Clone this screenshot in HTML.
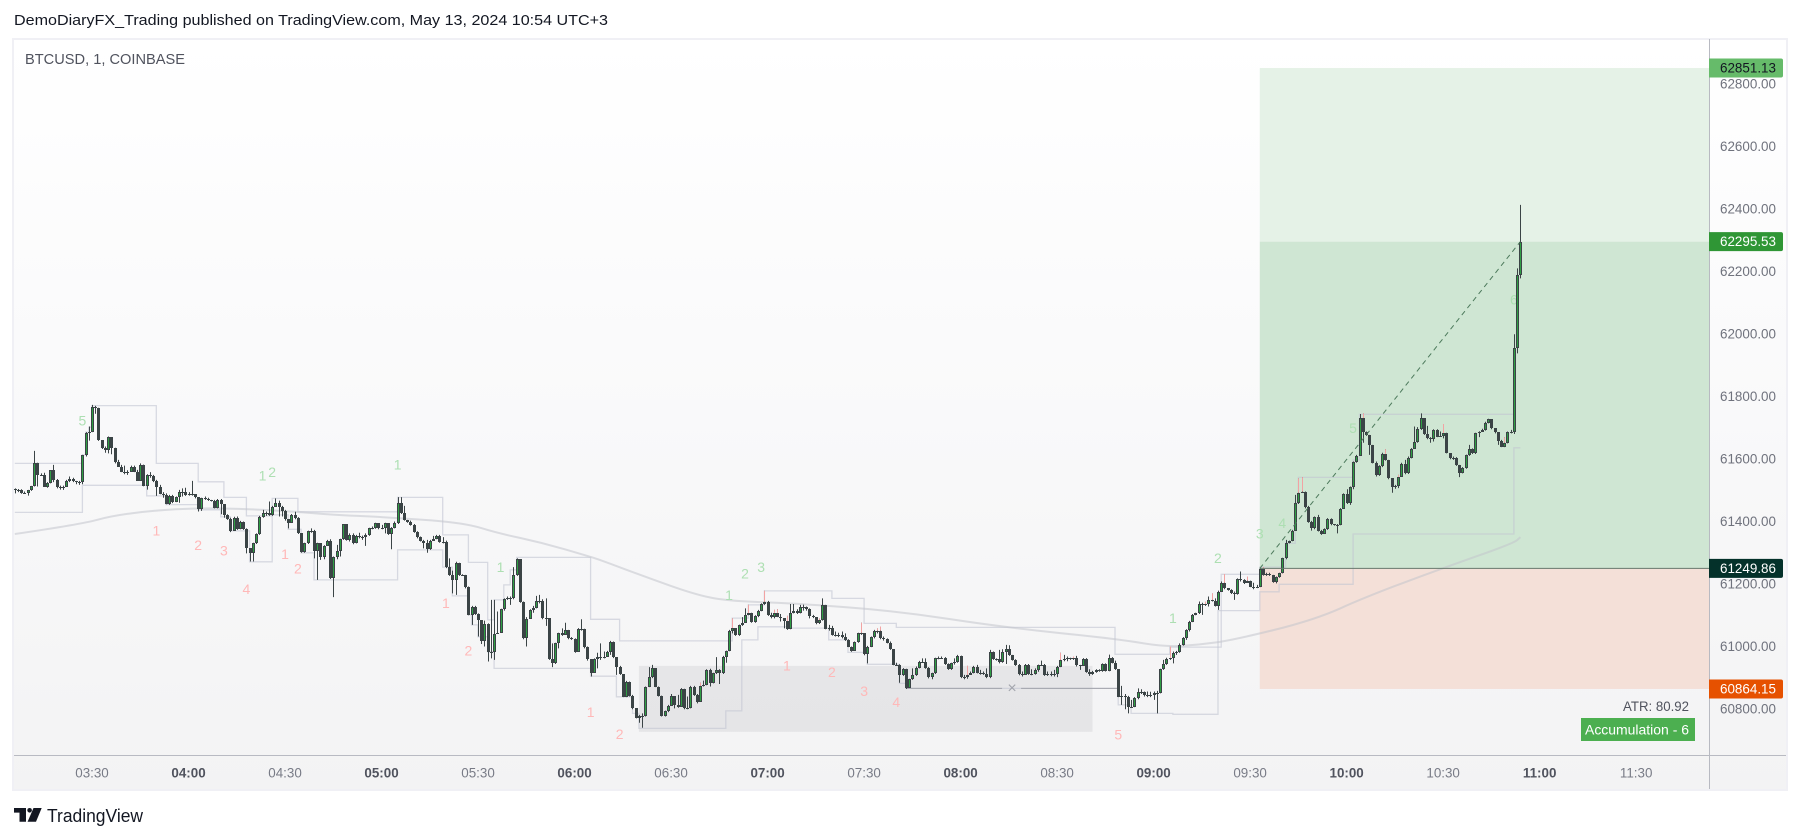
<!DOCTYPE html>
<html lang="en">
<head>
<meta charset="utf-8">
<title>BTCUSD, 1, COINBASE</title>
<style>
html,body{margin:0;padding:0;background:#fff;width:1802px;height:839px;overflow:hidden}
svg{display:block}
text{font-family:"Liberation Sans",sans-serif}
</style>
</head>
<body>
<svg id="chart" xmlns="http://www.w3.org/2000/svg" width="1802" height="839" viewBox="0 0 1802 839">
  <defs>
    <linearGradient id="paneBg" x1="0" y1="0" x2="0" y2="1">
      <stop offset="0" stop-color="#ffffff"/>
      <stop offset="0.5" stop-color="#f9f9fa"/>
      <stop offset="1" stop-color="#f3f3f4"/>
    </linearGradient>
    <clipPath id="paneClip"><rect x="14" y="40" width="1695" height="715"/></clipPath>
  </defs>
  <text x="14" y="25" font-size="15" fill="#131722" textLength="594" lengthAdjust="spacingAndGlyphs">DemoDiaryFX_Trading published on TradingView.com, May 13, 2024 10:54 UTC+3</text>
  <rect x="13" y="39" width="1774" height="751" fill="url(#paneBg)" stroke="#f0f0f5" stroke-width="2"/>
  <g id="pane" clip-path="url(#paneClip)"></g>
  <line x1="14" y1="755.5" x2="1786" y2="755.5" stroke="#b8bac2" stroke-width="1"/>
  <line x1="1709.5" y1="39" x2="1709.5" y2="789" stroke="#b8bac2" stroke-width="1"/>
  <g id="priceAxis"></g>
  <g id="timeAxis"></g>
  <g id="badges"></g>
  <text x="25" y="64" font-size="14.5" fill="#50535e" textLength="160" lengthAdjust="spacingAndGlyphs">BTCUSD, 1, COINBASE</text>
  <text x="1689" y="711" font-size="14" fill="#50535e" text-anchor="end" textLength="66" lengthAdjust="spacingAndGlyphs">ATR: 80.92</text>
  <rect x="1581" y="718" width="114" height="23" fill="#4caf50"/>
  <text x="1585" y="734.5" font-size="14" fill="#ffffff" textLength="104" lengthAdjust="spacingAndGlyphs">Accumulation - 6</text>
  <g>
    <path d="M14 808H26V821.7H19.5V812.6H14Z" fill="#131722"/>
    <circle cx="29.6" cy="810.3" r="2.3" fill="#131722"/>
    <path d="M33.5 808H41.7L36 821.7H27.6Z" fill="#131722"/>
    <text x="47" y="822" font-size="18" fill="#131722" textLength="96" lengthAdjust="spacingAndGlyphs">TradingView</text>
  </g>
</svg>
<script>
const firstMinute = 186;
const priceTicks = [62800,62600,62400,62200,62000,61800,61600,61400,61200,61000,60800];
const timeLabels = ["03:30","04:00","04:30","05:00","05:30","06:00","06:30","07:00","07:30","08:00","08:30","09:00","09:30","10:00","10:30","11:00","11:30"];
const firstOpen = 61505;
const closes = [
61502,61501,61492,61491,61500,61513,61586,61549,61549,61512,
61522,61564,61533,61512,61506,61512,61530,61536,61530,61526,
61526,61612,61683,61686,61767,61764,61660,61636,61629,61670,
61634,61592,61576,61560,61558,61558,61575,61560,61531,61580,
61515,61549,61546,61530,61512,61489,61485,61456,61483,61462,
61478,61494,61495,61485,61487,61487,61478,61440,61474,61472,
61470,61466,61444,61469,61455,61421,61408,61370,61412,61376,
61400,61376,61314,61298,61330,61359,61416,61426,61426,61421,
61448,61460,61448,61435,61407,61396,61422,61410,61362,61304,
61330,61370,61370,61307,61330,61286,61322,61337,61220,61286,
61305,61343,61391,61341,61357,61332,61354,61352,61350,61357,
61378,61379,61394,61379,61379,61394,61359,61378,61394,61458,
61426,61405,61398,61389,61368,61350,61338,61330,61311,61339,
61345,61354,61336,61336,61254,61230,61213,61268,61229,61228,
61190,61102,61128,61104,61085,61019,61071,60984,60984,61040,
61044,61119,61152,61154,61154,61228,61281,61144,61026,61087,
61117,61122,61147,61147,61090,61090,60959,60948,61010,61042,
61037,61053,61026,61023,60984,61057,61055,60998,60959,60916,
60959,60968,60966,60966,60984,61016,60966,60936,60911,60840,
60888,60842,60802,60772,60779,60779,60870,60902,60931,60872,
60843,60778,60793,60810,60841,60813,60808,60865,60802,60802,
60872,60845,60824,60874,60876,60925,60884,60914,60925,60914,
60968,60986,61051,61058,61037,61068,61076,61100,61106,61080,
61098,61115,61136,61143,61101,61094,61106,61096,61090,61081,
61055,61108,61115,61106,61128,61128,61119,61098,61096,61074,
61085,61133,61057,61059,61037,61038,61036,61032,61021,61000,
60986,61014,61042,61044,60976,61000,61030,61050,61051,61026,
61023,61012,60991,60942,60941,60909,60929,60866,60895,60909,
60932,60952,60952,60931,60902,60914,60962,60964,60964,60944,
60927,60946,60952,60971,60902,60902,60909,60914,60936,60916,
60914,60912,60902,60982,60959,60959,60951,60982,60991,60972,
60957,60941,60912,60910,60942,60912,60912,60925,60940,60942,
60909,60911,60908,60912,60936,60957,60959,60962,60960,60962,
60941,60938,60961,60919,60911,60920,60925,60922,60944,60923,
60962,60948,60927,60840,60842,60838,60808,60808,60834,60856,
60856,60845,60846,60844,60850,60852,60927,60944,60961,60962,
60978,60982,61005,61026,61053,61080,61101,61106,61136,61133,
61136,61149,61147,61130,61176,61204,61186,61181,61170,61168,
61215,61213,61202,61211,61192,61190,61192,61247,61230,61232,
61230,61207,61222,61234,61282,61330,61337,61371,61458,61492,
61496,61448,61400,61378,61414,61371,61360,61376,61409,61391,
61390,61390,61441,61487,61458,61510,61590,61610,61730,61688,
61677,61645,61588,61549,61578,61616,61597,61538,61510,61515,
61542,61584,61554,61604,61633,61655,61697,61730,61680,61666,
61663,61693,61672,61674,61682,61620,61602,61602,61581,61556,
61570,61612,61633,61620,61682,61687,61693,61716,61727,61698,
61686,61659,61640,61652,61686,61688,61954,62189,62294];
const highs = [
61506,61504,61503,61496,61501,61514,61626,61588,61554,61556,
61526,61564,61581,61536,61515,61515,61533,61544,61540,61530,
61530,61613,61686,61704,61773,61770,61764,61660,61640,61672,
61666,61636,61597,61581,61579,61564,61579,61579,61565,61586,
61582,61551,61558,61549,61533,61517,61494,61490,61485,61485,
61480,61501,61506,61508,61494,61530,61487,61476,61476,61480,
61476,61469,61469,61472,61472,61456,61423,61412,61415,61416,
61402,61400,61378,61312,61332,61362,61418,61437,61432,61464,
61450,61474,61467,61450,61437,61407,61424,61431,61414,61362,
61332,61371,61378,61373,61332,61330,61324,61341,61343,61288,
61325,61345,61392,61392,61362,61362,61357,61364,61355,61362,
61380,61384,61396,61394,61389,61396,61394,61382,61400,61478,
61478,61450,61405,61403,61392,61369,61352,61341,61341,61341,
61354,61357,61357,61350,61339,61282,61243,61271,61268,61231,
61229,61192,61130,61130,61106,61044,61083,61074,61149,61149,
61112,61121,61154,61160,61160,61254,61282,61277,61144,61094,
61119,61130,61162,61165,61151,61154,61082,61010,61012,61044,
61058,61076,61053,61030,61026,61059,61087,61057,61000,60957,
60962,60980,61010,60984,60986,61018,61016,60966,60938,60911,
60890,60888,60845,60802,60781,60786,60872,60934,60941,60929,
60872,60843,60795,60813,60848,60840,60845,60867,60865,60840,
60874,60874,60848,60884,60891,60927,60929,60916,60966,60927,
60970,60987,61053,61090,61058,61070,61094,61122,61133,61108,
61100,61117,61138,61178,61146,61108,61117,61119,61104,61090,
61098,61136,61136,61119,61133,61134,61128,61122,61101,61085,
61090,61154,61133,61069,61066,61048,61044,61048,61042,61023,
61000,61016,61044,61076,61042,61002,61032,61053,61058,61064,
61032,61026,61016,60991,60948,60943,60931,60929,60897,60930,
60936,60954,60962,60962,60934,60916,60964,60968,60968,60966,
60946,60948,60962,60973,60971,60909,60938,60920,60938,60941,
60925,60920,60930,60989,60984,60962,60989,60991,61005,61004,
60973,60959,60944,60920,60944,60944,60927,60930,60942,60955,
60944,60920,60920,60925,60938,60980,60973,60968,60964,60968,
60970,60941,60963,60963,60927,60922,60927,60927,60946,60946,
60974,60966,60955,60927,60874,60848,60842,60829,60838,60866,
60863,60856,60856,60855,60856,60858,60929,60957,60964,61000,
60984,60986,61010,61030,61055,61082,61104,61108,61144,61140,
61144,61160,61170,61154,61179,61208,61232,61186,61183,61176,
61218,61240,61215,61224,61211,61204,61197,61250,61254,61236,
61236,61229,61224,61236,61284,61341,61339,61373,61485,61538,
61542,61496,61450,61402,61416,61421,61373,61378,61411,61410,
61392,61392,61443,61490,61503,61512,61592,61613,61744,61746,
61688,61677,61645,61592,61580,61620,61631,61597,61538,61517,
61549,61588,61597,61608,61635,61704,61702,61746,61730,61706,
61670,61695,61695,61688,61712,61684,61616,61608,61606,61581,
61574,61614,61645,61634,61684,61689,61697,61719,61729,61727,
61698,61686,61661,61670,61688,61693,61999,62210,62413];
const lows = [
61490,61494,61489,61489,61483,61498,61512,61512,61546,61511,
61508,61522,61526,61506,61502,61501,61511,61526,61526,61519,
61517,61519,61608,61659,61686,61745,61658,61632,61620,61618,
61615,61586,61575,61558,61551,61549,61560,61558,61530,61530,
61513,61502,61540,61526,61482,61487,61476,61455,61453,61459,
61462,61460,61480,61482,61483,61483,61474,61432,61434,61469,
61466,61464,61442,61442,61423,61412,61405,61366,61372,61373,
61375,61373,61298,61272,61272,61328,61357,61412,61418,61418,
61418,61448,61416,61416,61403,61378,61396,61407,61360,61300,
61300,61328,61364,61282,61213,61277,61279,61322,61216,61158,
61279,61288,61341,61339,61336,61327,61330,61346,61341,61322,
61354,61375,61377,61375,61375,61362,61357,61311,61378,61392,
61424,61403,61396,61387,61364,61346,61336,61314,61300,61309,
61341,61343,61332,61330,61251,61226,61170,61165,61226,61226,
61186,61100,61069,61101,61032,61008,61000,60952,60962,60957,
61040,61044,61115,61149,61133,61151,61226,61140,61023,61000,
61091,61108,61122,61138,61087,61066,60957,60934,60944,60994,
61034,61048,61023,61021,60980,60984,61051,60994,60955,60904,
60916,60930,60957,60962,60973,60973,60963,60909,60909,60838,
60838,60840,60799,60770,60756,60740,60776,60870,60899,60870,
60840,60776,60776,60790,60810,60802,60804,60808,60799,60799,
60802,60842,60818,60844,60872,60876,60872,60882,60912,60880,
60912,60948,60985,61042,61034,61034,61066,61076,61100,61076,
61076,61094,61113,61133,61098,61090,61090,61094,61080,61058,
61053,61055,61106,61104,61106,61115,61115,61090,61091,61071,
61072,61083,61055,61051,61035,61032,61030,61026,61018,60998,
60983,60986,61012,61037,60972,60946,60998,61026,61042,61023,
61019,61010,60989,60940,60938,60884,60906,60864,60870,60893,
60906,60930,60948,60929,60898,60895,60912,60959,60961,60941,
60925,60925,60942,60948,60899,60895,60897,60909,60914,60914,
60910,60909,60899,60899,60957,60955,60946,60948,60944,60970,
60955,60938,60908,60904,60909,60909,60908,60910,60919,60938,
60906,60906,60905,60904,60902,60934,60953,60953,60957,60957,
60936,60925,60938,60916,60906,60909,60916,60919,60919,60920,
60921,60946,60925,60838,60813,60799,60786,60806,60806,60831,
60848,60840,60838,60838,60829,60786,60850,60925,60941,60957,
60946,60973,60980,61003,61021,61048,61078,61100,61104,61101,
61130,61128,61144,61128,61117,61179,61183,61179,61168,61149,
61166,61208,61200,61207,61190,61183,61187,61190,61227,61226,
61226,61204,61202,61220,61234,61279,61330,61337,61371,61456,
61492,61442,61396,61371,61375,61368,61357,61368,61373,61388,
61387,61362,61388,61441,61456,61453,61503,61588,61614,61652,
61674,61613,61586,61544,61546,61574,61595,61535,61492,61505,
61507,61544,61551,61552,61602,61634,61652,61693,61677,61663,
61652,61656,61670,61672,61666,61618,61599,61597,61578,61542,
61554,61569,61610,61616,61616,61670,61687,61691,61714,61695,
61682,61645,61638,61638,61650,61682,61680,61938,62178];
const redWickBars = [213,223,228,233,236,237,240,250,263,268,269,296,325,329,359,370,372,376,383,388,399,400,419,426,430,444,463];
const maBars = [0,21,30,43,57,72,88,99,119,140,150,164,178,182,196,211,221,241,274,307,343,357,368,379,404,420,444,466,468];
const maValues = [61360,61392,61418,61435,61443,61440,61431,61421,61412,61395,61363,61332,61290,61277,61223,61168,61146,61139,61114,61062,61024,60999,61005,61021,61085,61159,61251,61331,61350];
const upperStepBars = [0,21,22,23,24,44,57,65,72,80,88,119,133,141,147,149,152,154,156,179,188,223,228,233,254,264,274,342,359,375,387,395,398,399,416,418,466];
const upperStepPrices = [61586,61613,61686,61702,61771,61586,61527,61477,61418,61474,61431,61477,61357,61269,61085,61149,61197,61245,61285,61087,61018,61091,61133,61178,61154,61074,61061,60975,60998,61231,61254,61330,61458,61541,61597,61743,61743];
const lowerStepBars = [0,21,41,47,57,64,67,73,80,85,89,93,119,133,136,141,142,144,147,149,179,187,192,194,221,226,231,240,253,259,265,275,277,343,347,360,374,387,393,416,466,468];
const lowerStepPrices = [61429,61516,61482,61454,61437,61415,61370,61271,61421,61375,61300,61213,61309,61254,61162,61101,61069,61031,60983,60930,60905,60839,60786,60738,60794,61021,61063,61059,61021,60981,60943,60882,60866,60813,60786,60783,61115,61175,61199,61360,61636,61636];
const redCountBars = [44,57,65,72,84,88,134,141,179,188,240,254,264,274,343];
const redCountPrices = [61371,61325,61307,61184,61296,61250,61140,60987,60791,60720,60939,60919,60858,60822,60719];
const redCountTexts = ["1","2","3","4","1","2","1","2","1","2","1","2","3","4","5"];
const greenCountBars = [21,77,80,119,151,222,227,232,360,374,387,394,416,466];
const greenCountPrices = [61723,61547,61559,61582,61255,61165,61233,61255,61092,61284,61362,61396,61700,62111];
const greenCountTexts = ["5","1","2","1","1","1","2","3","1","2","3","4","5","6"];
const rangeBoxBars = [194,335];
const rangeBoxPrices = [60938,60727];
const brokenLevelBars = [277,343];
const brokenLevelPrice = 60866;
const positionStartBar = 387;
const entryPrice = 61249.86;
const targetPrice = 62851.13;
const stopPrice = 60864.15;
const lastPrice = 62295.53;

const NS = 'http://www.w3.org/2000/svg';
function barX(i){ return 14.8 + 3.217 * i; }
function minuteX(m){ return barX(m - firstMinute); }
function priceY(p){ return 84 + (62800 - p) * 0.3125; }
function mk(parent, tag, attrs){
  const el = document.createElementNS(NS, tag);
  for (const k in attrs) el.setAttribute(k, attrs[k]);
  parent.appendChild(el);
  return el;
}
const pane = document.getElementById('pane');
const paneRight = 1709;

let el = mk(pane, 'rect', {x:barX(positionStartBar), y:priceY(targetPrice), width:paneRight-barX(positionStartBar), height:priceY(lastPrice)-priceY(targetPrice), fill:'#e5f2e7'});


el = mk(pane, 'rect', {x:barX(positionStartBar), y:priceY(lastPrice), width:paneRight-barX(positionStartBar), height:priceY(entryPrice)-priceY(lastPrice), fill:'#cfe6d3'});


el = mk(pane, 'rect', {x:barX(positionStartBar), y:priceY(entryPrice), width:paneRight-barX(positionStartBar), height:priceY(stopPrice)-priceY(entryPrice), fill:'#f4e0d8'});


el = mk(pane, 'rect', {x:barX(rangeBoxBars[0]), y:priceY(rangeBoxPrices[0]), width:barX(rangeBoxBars[1])-barX(rangeBoxBars[0]), height:priceY(rangeBoxPrices[1])-priceY(rangeBoxPrices[0]), fill:'#787b86', 'fill-opacity':'0.12'});



function stepPath(bars, prices){
  let d = 'M' + barX(bars[0]).toFixed(1) + ' ' + priceY(prices[0]).toFixed(1);
  for (let i = 1; i < bars.length; i++){
    d += 'H' + barX(bars[i]).toFixed(1) + 'V' + priceY(prices[i]).toFixed(1);
  }
  return d;
}
el = mk(pane, 'path', {d:stepPath(upperStepBars, upperStepPrices), fill:'none', stroke:'#c2c5d2', 'stroke-opacity':'0.6', 'stroke-width':'1.3'});


el = mk(pane, 'path', {d:stepPath(lowerStepBars, lowerStepPrices), fill:'none', stroke:'#c2c5d2', 'stroke-opacity':'0.6', 'stroke-width':'1.3'});



let maD = 'M' + barX(maBars[0]).toFixed(1) + ' ' + priceY(maValues[0]).toFixed(1);
for (let i = 1; i < maBars.length - 1; i++){
  const mx = (barX(maBars[i]) + barX(maBars[i+1])) / 2;
  const my = (priceY(maValues[i]) + priceY(maValues[i+1])) / 2;
  maD += 'Q' + barX(maBars[i]).toFixed(1) + ' ' + priceY(maValues[i]).toFixed(1) + ' ' + mx.toFixed(1) + ' ' + my.toFixed(1);
}
maD += 'L' + barX(maBars[maBars.length-1]).toFixed(1) + ' ' + priceY(maValues[maBars.length-1]).toFixed(1);
el = mk(pane, 'path', {d:maD, fill:'none', stroke:'#c2c4cc', 'stroke-opacity':'0.55', 'stroke-width':'2', 'stroke-linejoin':'round'});



const lvlY = priceY(brokenLevelPrice);
const lvlMid = (barX(brokenLevelBars[0]) + barX(brokenLevelBars[1])) / 2 + 0;
el = mk(pane, 'line', {x1:barX(brokenLevelBars[0]), y1:lvlY, x2:lvlMid-10, y2:lvlY, stroke:'#a3a5ad', 'stroke-width':'1'});


el = mk(pane, 'line', {x1:lvlMid+9, y1:lvlY, x2:barX(brokenLevelBars[1]), y2:lvlY, stroke:'#a3a5ad', 'stroke-width':'1'});


el = mk(pane, 'text', {x:lvlMid, y:lvlY, 'font-size':'16', fill:'#a3a5ad', 'text-anchor':'middle', 'dominant-baseline':'central'});


el.textContent = '×';

redCountBars.forEach(function(b, i){
  const t = mk(pane, 'text', {x:barX(b), y:priceY(redCountPrices[i]), 'font-size':'14', fill:'#ffb8b8', 'text-anchor':'middle', 'dominant-baseline':'central'});
  
  
  t.textContent = redCountTexts[i];
});
greenCountBars.forEach(function(b, i){
  const t = mk(pane, 'text', {x:barX(b), y:priceY(greenCountPrices[i]), 'font-size':'14', fill:'#addfb2', 'text-anchor':'middle', 'dominant-baseline':'central'});
  
  
  t.textContent = greenCountTexts[i];
});

const DARK = '#3b4446';
const UPFILL = '#2f9e44';
closes.forEach(function(c, i){
  const o = i ? closes[i-1] : firstOpen;
  const cx = Math.round(barX(i)) + 0.5;
  const top = Math.max(o, c), bot = Math.min(o, c);
  const wick = mk(pane, 'line', {x1:cx, y1:priceY(highs[i]).toFixed(1), x2:cx, y2:priceY(lows[i]).toFixed(1), stroke:DARK, 'stroke-width':'1'});
  
  
  if (redWickBars.indexOf(i) >= 0 && highs[i] > top){
    const rw = mk(pane, 'line', {x1:cx, y1:priceY(highs[i]).toFixed(1), x2:cx, y2:priceY(top).toFixed(1), stroke:'#f2a3a3', 'stroke-width':'1'});
    
    
  }
  const yt = Math.round(priceY(top)), h = Math.max(1, Math.round(priceY(bot)) - yt);
  const body = mk(pane, 'rect', {x:cx-1.5, y:yt, width:3, height:h, fill:DARK});
  
  
  if (c > o && h > 2){
    const inner = mk(pane, 'rect', {x:cx-0.5, y:yt+1, width:1, height:h-2, fill:UPFILL});
    
    
  }
});

el = mk(pane, 'line', {x1:barX(positionStartBar), y1:priceY(entryPrice), x2:paneRight, y2:priceY(entryPrice), stroke:'#66786c', 'stroke-width':'1'});


el = mk(pane, 'line', {x1:barX(positionStartBar), y1:priceY(entryPrice), x2:barX(closes.length-1), y2:priceY(lastPrice), stroke:'#4d7a5c', 'stroke-width':'1', 'stroke-dasharray':'5 4'});



const priceAxis = document.getElementById('priceAxis');
priceTicks.forEach(function(p){
  const t = mk(priceAxis, 'text', {x:1720, y:priceY(p), 'font-size':'13.4', fill:'#6f727d', 'dominant-baseline':'central', textLength:'56', lengthAdjust:'spacingAndGlyphs'});
  
  
  t.textContent = p.toFixed(2);
});

const timeAxis = document.getElementById('timeAxis');
timeLabels.forEach(function(s){
  const parts = s.split(':');
  const m = parseInt(parts[0], 10) * 60 + parseInt(parts[1], 10);
  const whole = parts[1] === '00';
  const t = mk(timeAxis, 'text', {x:minuteX(m), y:773, 'font-size':'13.4', fill: whole ? '#50535e' : '#787b86', 'font-weight': whole ? 'bold' : 'normal', 'text-anchor':'middle', 'dominant-baseline':'central'});
  
  
  t.textContent = s;
});

const badgePrices = [targetPrice, lastPrice, entryPrice, stopPrice];
const badgeFills = ['#66bb6a', '#2f9635', '#04312a', '#e65100'];
const badgeInks = ['#131722', '#ffffff', '#ffffff', '#ffffff'];
const badgeGroup = document.getElementById('badges');
badgePrices.forEach(function(p, i){
  const y = priceY(p);
  const r = mk(badgeGroup, 'path', {d:'M1709 ' + (y-9.5).toFixed(1) + 'H1781a2 2 0 0 1 2 2V' + (y+7.5).toFixed(1) + 'a2 2 0 0 1-2 2H1709Z', fill:badgeFills[i]});
  
  
  const t = mk(badgeGroup, 'text', {x:1720, y:y, 'font-size':'13.4', fill:badgeInks[i], 'dominant-baseline':'central', textLength:'56', lengthAdjust:'spacingAndGlyphs'});
  
  
  t.textContent = p.toFixed(2);
});
</script>
</body>
</html>
